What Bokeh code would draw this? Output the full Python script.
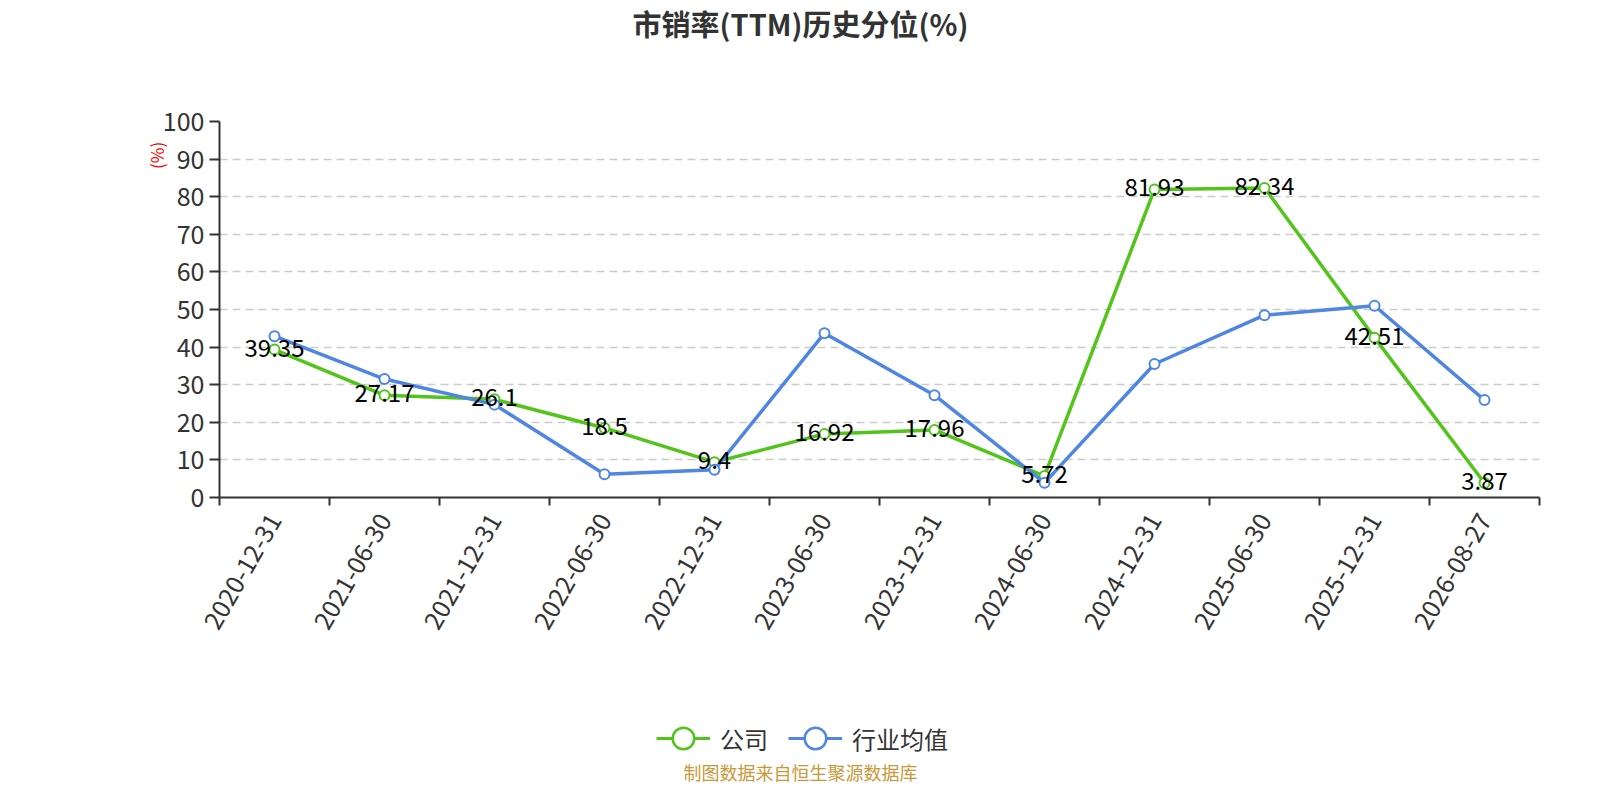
import math
from bokeh.plotting import figure
from bokeh.layouts import column
from bokeh.models import (ColumnDataSource, Range1d, FixedTicker, Label, Legend, LegendItem,
                          LinearAxis)
from bokeh.core.properties import value
from bokeh.embed import file_html
from bokeh.resources import INLINE

# ---- data ----
dates = ["2020-12-31", "2021-06-30", "2021-12-31", "2022-06-30", "2022-12-31", "2023-06-30",
         "2023-12-31", "2024-06-30", "2024-12-31", "2025-06-30", "2025-12-31", "2026-08-27"]
company = [39.35, 27.17, 26.1, 18.5, 9.4, 16.92, 17.96, 5.72, 81.93, 82.34, 42.51, 3.87]
industry = [42.9, 31.5, 24.7, 6.2, 7.4, 43.7, 27.2, 3.9, 35.5, 48.5, 51.0, 25.9]
y_ticks = [0, 10, 20, 30, 40, 50, 60, 70, 80, 90, 100]
title_text = "市销率(TTM)历史分位(%)"
series_names = ["公司", "行业均值"]
unit_text = "(%)"
footer_text = "制图数据来自恒生聚源数据库"

FONT = "Noto Sans CJK SC"
GREEN = "#52C41A"
BLUE = "#4E86E2"
AX = "#333333"
W = 1584
LEFT, RIGHT = 219, 45
TOP_H = 91
MAIN_TOP, FRAME_H, MAIN_BOTTOM = 30, 376, 150
MAIN_H = MAIN_TOP + FRAME_H + MAIN_BOTTOM
BOT_H = 784 - TOP_H - MAIN_H

n = len(dates)
centers = [i + 0.5 for i in range(n)]
src = ColumnDataSource(dict(x=centers, company=company, industry=industry,
                            labels=[f"{v:g}" for v in company]))


def blank(h):
    f = figure(width=W, height=h, output_backend="svg", toolbar_location=None,
               x_range=Range1d(LEFT, W - RIGHT), y_range=Range1d(h, 0),
               x_axis_type=None, y_axis_type=None,
               min_border_left=LEFT, min_border_right=RIGHT,
               min_border_top=0, min_border_bottom=0)
    f.outline_line_color = None
    f.background_fill_color = "white"
    f.border_fill_color = "white"
    f.xgrid.visible = False
    f.ygrid.visible = False
    return f


# ---- title strip ----
top = blank(TOP_H)
top.add_layout(Label(x=800, y=22, text=title_text, text_font=FONT,
                     text_font_size="29px", text_font_style="bold", text_color=AX,
                     text_align="center", text_baseline="middle"))

# ---- main chart ----
p = figure(width=W, height=MAIN_H, output_backend="svg", toolbar_location=None,
           x_range=Range1d(0, n), y_range=Range1d(0, 100),
           min_border_left=LEFT, min_border_right=RIGHT,
           min_border_top=MAIN_TOP, min_border_bottom=MAIN_BOTTOM)
p.outline_line_color = None
p.background_fill_color = "white"
p.border_fill_color = "white"

p.xgrid.grid_line_color = None
p.ygrid.ticker = FixedTicker(ticks=y_ticks)
p.ygrid.grid_line_color = "#cccccc"
p.ygrid.grid_line_dash = "8 5"
p.ygrid.grid_line_width = 1.5

xax = p.xaxis[0]
xax.ticker = FixedTicker(ticks=centers, minor_ticks=list(range(n + 1)))
xax.major_label_overrides = {c: d for c, d in zip(centers, dates)}
xax.major_tick_out = 0
xax.major_tick_in = 0
xax.minor_tick_out = 8
xax.minor_tick_in = 0
xax.minor_tick_line_color = AX
xax.minor_tick_line_width = 2
xax.axis_line_color = AX
xax.axis_line_width = 2
xax.major_label_orientation = math.pi / 3
xax.major_label_text_font = FONT
xax.major_label_text_font_size = "25px"
xax.major_label_text_color = AX
xax.major_label_standoff = 10

yax = p.yaxis[0]
yax.ticker = FixedTicker(ticks=y_ticks)
yax.major_tick_out = 10
yax.major_tick_in = 0
yax.major_tick_line_color = AX
yax.major_tick_line_width = 2
yax.minor_tick_line_color = None
yax.axis_line_color = AX
yax.axis_line_width = 2
yax.major_label_text_font = FONT
yax.major_label_text_font_size = "25px"
yax.major_label_text_color = AX
yax.major_label_standoff = 5

# unit "(%)" near the top of the y axis
unit_ax = LinearAxis(ticker=FixedTicker(ticks=[91]), major_label_overrides={91: unit_text},
                     axis_line_color=None, major_tick_line_color=None,
                     minor_tick_line_color=None, major_label_orientation="vertical",
                     major_label_text_color="red", major_label_text_font=FONT,
                     major_label_text_font_size="17px", major_label_standoff=-16)
p.add_layout(unit_ax, "left")

gl = p.line("x", "company", source=src, line_color=GREEN, line_width=3.5)
gs = p.scatter("x", "company", source=src, marker="circle", size=10,
               fill_color="white", line_color=GREEN, line_width=2)
bl = p.line("x", "industry", source=src, line_color=BLUE, line_width=3.5)
bs = p.scatter("x", "industry", source=src, marker="circle", size=10,
               fill_color="white", line_color=BLUE, line_width=2)

p.text("x", "company", text="labels", source=src, text_align="center",
       text_baseline="middle", text_font=value(FONT), text_font_size="24px",
       text_color="black", y_offset=-2)

# ---- legend + footer strip ----
bot = blank(BOT_H)
nan = float("nan")
key_src = ColumnDataSource(dict(x=[nan], y=[nan]))
lg1 = bot.line("x", "y", source=key_src, line_color=GREEN, line_width=3)
sg1 = bot.scatter("x", "y", source=key_src, marker="circle", fill_color="white",
                  line_color=GREEN, line_width=2.5)
lg2 = bot.line("x", "y", source=key_src, line_color=BLUE, line_width=3)
sg2 = bot.scatter("x", "y", source=key_src, marker="circle", fill_color="white",
                  line_color=BLUE, line_width=2.5)
legend_center_y = 738 - (TOP_H + MAIN_H)
legend = Legend(items=[LegendItem(label=series_names[0], renderers=[lg1, sg1]),
                       LegendItem(label=series_names[1], renderers=[lg2, sg2])],
                orientation="horizontal",
                location=(656 - LEFT, BOT_H - legend_center_y - 27),
                glyph_width=54, glyph_height=54, label_standoff=10, spacing=20,
                padding=0, margin=0, border_line_color=None, background_fill_alpha=0,
                label_text_font=FONT, label_text_font_size="24px", label_text_color=AX)
bot.add_layout(legend, "center")
bot.add_layout(Label(x=800, y=BOT_H - 13, text=footer_text, text_font=FONT,
                     text_font_size="18px", text_color="#C9983A",
                     text_align="center", text_baseline="middle"))

layout = column(top, p, bot, spacing=0)
open("out.html", "w").write(file_html(layout, INLINE))
